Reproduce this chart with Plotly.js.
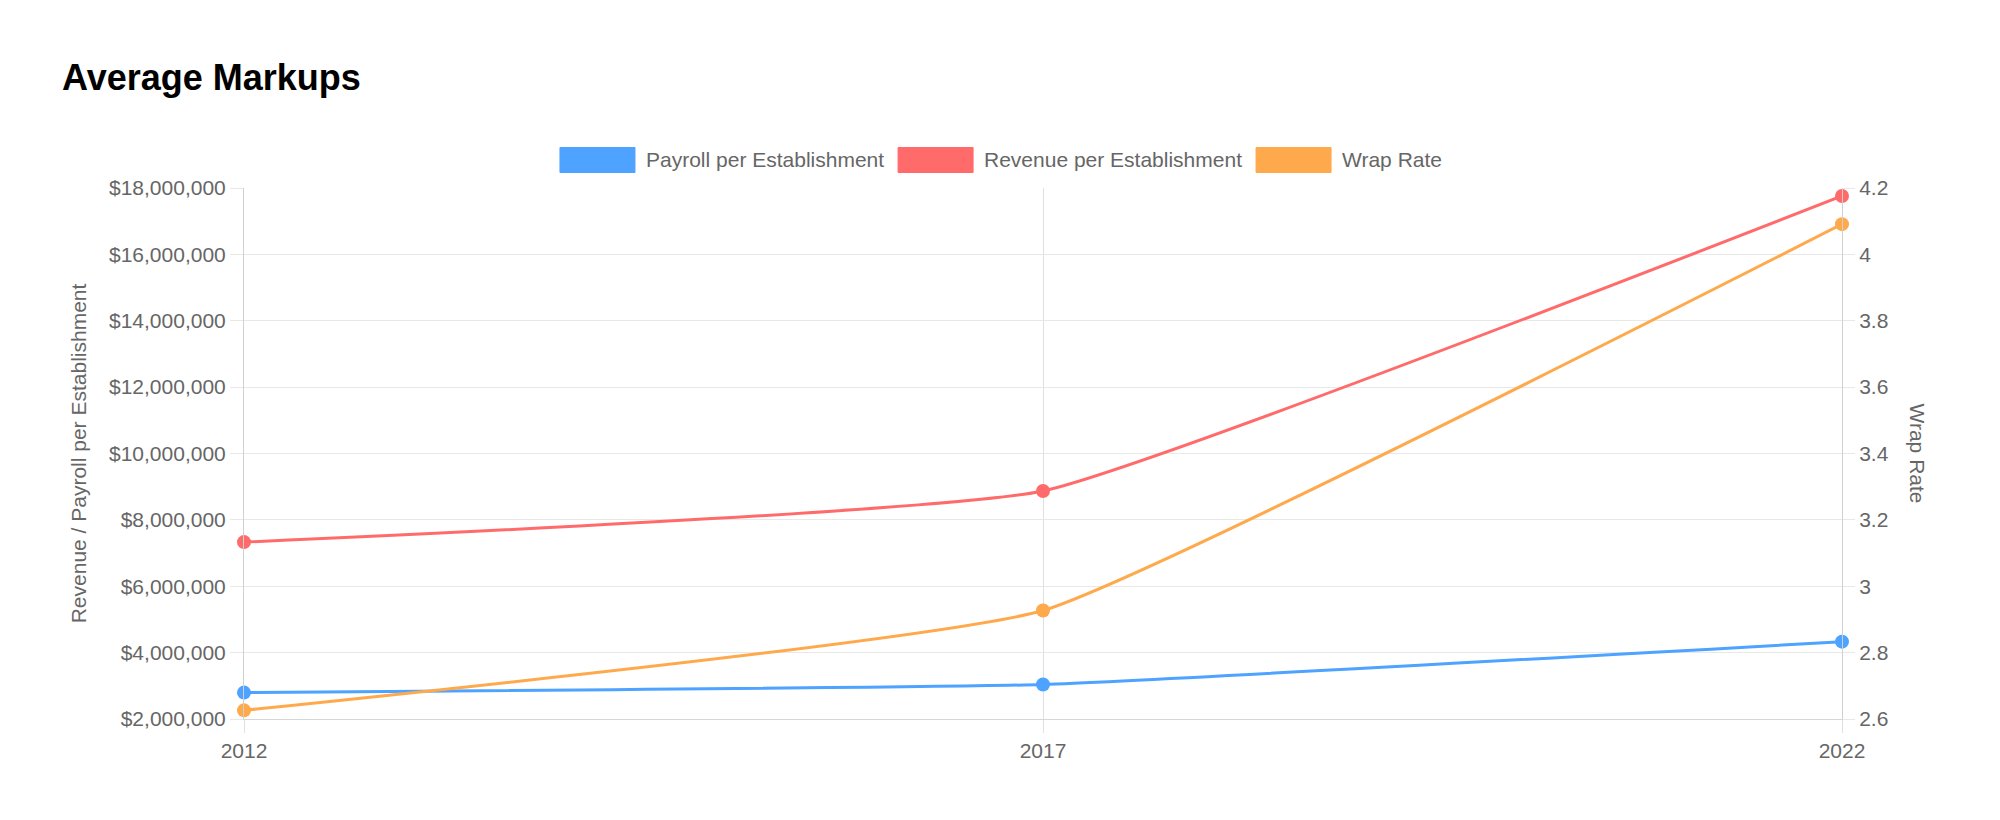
<!DOCTYPE html>
<html>
<head>
<meta charset="utf-8">
<script src="https://cdn.plot.ly/plotly-3.0.1.min.js"></script>
<style>
  html, body { margin: 0; padding: 0; background: #fff; }
  #chart { width: 2000px; height: 820px; }
</style>
</head>
<body>
<div id="chart"></div>
<script>
// ---- data ----
const years = ['2012', '2017', '2022'];
const payroll = [2795000, 3040000, 4330000];
const revenue = [7330000, 8870000, 17760000];
const wrapRate = [2.626, 2.927, 4.091];
const seriesNames = ['Payroll per Establishment', 'Revenue per Establishment', 'Wrap Rate'];
const seriesColors = ['#4DA3FF', '#FF6B6B', '#FFA94D'];
const leftTickVals = [2000000, 4000000, 6000000, 8000000, 10000000, 12000000, 14000000, 16000000, 18000000];
const leftTickText = leftTickVals.map(v => '$' + v.toLocaleString('en-US'));
const rightTickVals = [2.6, 2.8, 3.0, 3.2, 3.4, 3.6, 3.8, 4.0, 4.2];
const rightTickText = ['2.6', '2.8', '3', '3.2', '3.4', '3.6', '3.8', '4', '4.2'];

// ---- layout constants ----
const W = 2000, H = 820;
const M = { l: 244, r: 158, t: 188, b: 101 };
const plotW = W - M.l - M.r, plotH = H - M.t - M.b;
const FONT = 'Liberation Sans, Arial, Helvetica, sans-serif';
const GREY = '#666666';

function line(name, y, color, axis) {
  return {
    type: 'scatter', mode: 'lines+markers', name: name,
    x: years, y: y, yaxis: axis,
    line: { color: color, width: 3, shape: 'spline', smoothing: 0.35 },
    marker: { color: color, size: 14 },
    cliponaxis: false, showlegend: false
  };
}

const data = [
  line(seriesNames[2], wrapRate, seriesColors[2], 'y2'),
  line(seriesNames[1], revenue, seriesColors[1], 'y'),
  line(seriesNames[0], payroll, seriesColors[0], 'y')
];

// ---- legend built from names/colours (Chart.js style boxes) ----
const ctx = document.createElement('canvas').getContext('2d');
ctx.font = '21px "Liberation Sans", Arial, sans-serif';
const boxW = 75, boxH = 25, boxGap = 9, itemGap = 16;
const widths = seriesNames.map(n => ctx.measureText(n).width);
let total = 0;
widths.forEach((w, i) => { total += boxW + boxGap + w + (i < widths.length - 1 ? itemGap : 0); });
let cx = W / 2 - total / 2;
const legendCy = 160;
const px2x = p => (p - M.l) / plotW;
const py2y = p => (H - M.b - p) / plotH;
const shapes = [], annotations = [];
seriesNames.forEach((n, i) => {
  shapes.push({
    type: 'rect', xref: 'paper', yref: 'paper',
    x0: px2x(cx), x1: px2x(cx + boxW),
    y0: py2y(legendCy + boxH / 2), y1: py2y(legendCy - boxH / 2),
    fillcolor: seriesColors[i], line: { color: seriesColors[i], width: 1 }, layer: 'above'
  });
  annotations.push({
    xref: 'paper', yref: 'paper', x: px2x(cx + boxW + boxGap), y: py2y(legendCy),
    xanchor: 'left', yanchor: 'middle', showarrow: false, text: n,
    font: { family: FONT, size: 21, color: GREY }
  });
  cx += boxW + boxGap + widths[i] + itemGap;
});
// right axis title (reads top to bottom)
annotations.push({
  xref: 'paper', yref: 'paper', x: px2x(1917), y: 0.5,
  xanchor: 'center', yanchor: 'middle', showarrow: false, textangle: 90,
  text: 'Wrap Rate', font: { family: FONT, size: 21, color: GREY }
});

const layout = {
  width: W, height: H,
  margin: M,
  paper_bgcolor: '#ffffff', plot_bgcolor: '#ffffff',
  font: { family: FONT, size: 21, color: GREY },
  showlegend: false,
  title: {
    text: '<b>Average Markups</b>',
    font: { family: FONT, size: 36, color: '#000000' },
    xref: 'container', yref: 'container',
    x: 62 / W, xanchor: 'left',
    y: (H - 77) / H, yanchor: 'middle'
  },
  xaxis: {
    type: 'category', range: [0, 2],
    showgrid: true, gridcolor: '#e0e0e0', gridwidth: 1,
    ticks: 'outside', ticklen: 13, tickcolor: '#e0e0e0',
    showline: true, linecolor: '#d6d6d6', linewidth: 1,
    zeroline: false,
    tickfont: { family: FONT, size: 21, color: GREY }
  },
  yaxis: {
    range: [2000000, 18000000],
    tickmode: 'array', tickvals: leftTickVals, ticktext: leftTickText,
    showgrid: true, gridcolor: '#e8e8e8', gridwidth: 1,
    ticks: 'outside', ticklen: 13, tickcolor: '#e8e8e8',
    showline: true, linecolor: '#d0d0d0', linewidth: 1,
    zeroline: false,
    tickfont: { family: FONT, size: 21, color: GREY },
    title: { text: 'Revenue / Payroll per Establishment', standoff: 16,
             font: { family: FONT, size: 21, color: GREY } }
  },
  yaxis2: {
    overlaying: 'y', side: 'right',
    range: [2.6, 4.2], tickmode: 'array', tickvals: rightTickVals, ticktext: rightTickText,
    showgrid: false,
    ticks: 'outside', ticklen: 12, tickcolor: '#e8e8e8',
    showline: true, linecolor: '#d0d0d0', linewidth: 1,
    zeroline: false,
    tickfont: { family: FONT, size: 21, color: GREY }
  },
  shapes: shapes,
  annotations: annotations
};

Plotly.newPlot('chart', data, layout, { displayModeBar: false, responsive: false, staticPlot: true });
</script>
</body>
</html>
